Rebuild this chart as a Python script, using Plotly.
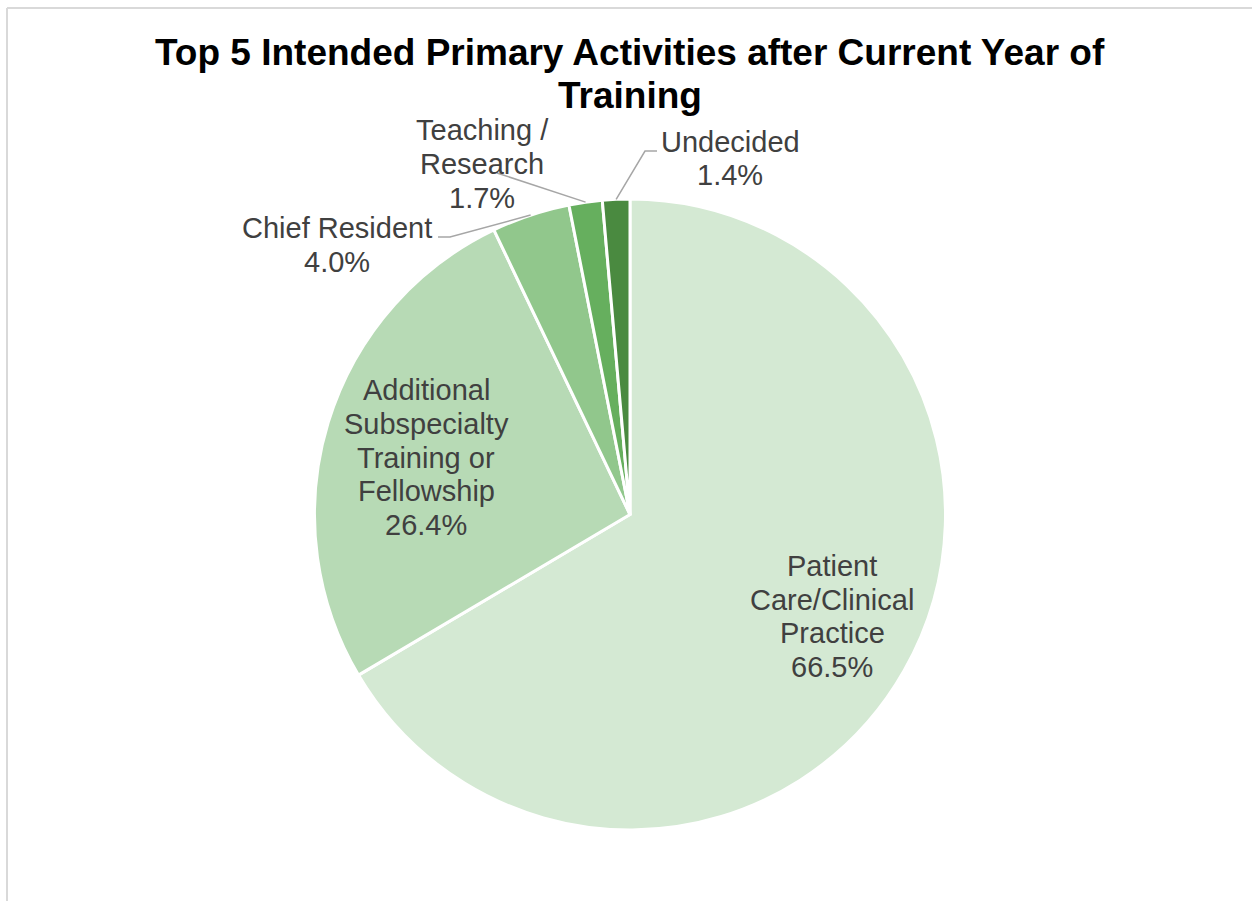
import math
import plotly.graph_objects as go

# Survey results: intended primary activity after the current training year
categories = [
    "Patient Care/Clinical Practice",
    "Additional Subspecialty Training or Fellowship",
    "Chief Resident",
    "Teaching / Research",
    "Undecided",
]
percentages = [66.5, 26.4, 4.0, 1.7, 1.4]

# How each category name is broken across lines in its label
label_lines = [
    ["Patient", "Care/Clinical", "Practice"],
    ["Additional", "Subspecialty", "Training or", "Fellowship"],
    ["Chief Resident"],
    ["Teaching /", "Research"],
    ["Undecided"],
]
title_lines = ["Top 5 Intended Primary Activities after Current Year of", "Training"]

slice_colors = ["#D4E9D3", "#B7DAB5", "#91C78C", "#66AF5E", "#4A8A40"]

W, H = 1252, 901
CX, CY, R = 630.0, 514.5, 315.5          # pie centre and radius in pixels
FONT = "Liberation Sans, Arial, sans-serif"
TEXT_COLOR = "#404040"
LABEL_SIZE = 29
LINE_STEP = 33.6
TITLE_SIZE = 37
TITLE_STEP = 43


def px(x):
    return x / W


def py(y):
    return 1 - y / H


# Label block centres (pixels); outside labels also get a leader line that
# starts on the rim of their slice at the slice bisector.
label_pos = [
    {"center": (832, 616.5)},
    {"center": (426, 457.5)},
    {"center": (337, 245), "elbow": (450, 237), "end": (438, 237)},
    {"center": (482, 164), "elbow": None, "end": (497, 173)},
    {"center": (730, 158.5), "elbow": (645, 151), "end": (657, 151)},
]

total = sum(percentages)
mid_angles = []
acc = 0.0
for v in percentages:
    mid_angles.append((acc + v / 2) / total * 360.0)
    acc += v


def polar(angle_deg, r):
    a = math.radians(angle_deg)
    return CX + r * math.sin(a), CY - r * math.cos(a)


fig = go.Figure(
    go.Pie(
        labels=categories,
        values=percentages,
        sort=False,
        direction="clockwise",
        rotation=0,
        textinfo="none",
        hoverinfo="label+percent",
        marker=dict(colors=slice_colors, line=dict(color="white", width=3)),
        domain=dict(x=[px(CX - R), px(CX + R)], y=[py(CY + R), py(CY - R)]),
        showlegend=False,
    )
)

annotations = []
shapes = []


def add_block(lines, cx, cy, size, color, step, bold=False):
    n = len(lines)
    for k, t in enumerate(lines):
        y = cy + (k - (n - 1) / 2) * step
        annotations.append(
            dict(
                text=f"<b>{t}</b>" if bold else t,
                x=px(cx), y=py(y), xref="paper", yref="paper",
                xanchor="center", yanchor="middle", showarrow=False,
                font=dict(family=FONT, size=size, color=color),
            )
        )


for i, (lines, v, spec) in enumerate(zip(label_lines, percentages, label_pos)):
    text_lines = lines + [f"{v:.1f}%"]
    add_block(text_lines, spec["center"][0], spec["center"][1],
              LABEL_SIZE, TEXT_COLOR, LINE_STEP)
    if "end" in spec:
        sx, sy = polar(mid_angles[i], R)
        pts = [(sx, sy)]
        if spec["elbow"]:
            pts.append(spec["elbow"])
        pts.append(spec["end"])
        path = "M " + " L ".join(f"{px(x):.5f},{py(y):.5f}" for x, y in pts)
        shapes.append(dict(type="path", path=path, xref="paper", yref="paper",
                           line=dict(color="#A6A6A6", width=1.5)))

add_block(title_lines, 630, 73.5, TITLE_SIZE, "#000000", TITLE_STEP, bold=True)

# Chart-area frame (top and left edges visible)
shapes.append(dict(type="line", xref="paper", yref="paper",
                   x0=px(7), x1=1.0, y0=py(8), y1=py(8),
                   line=dict(color="#D9D9D9", width=2)))
shapes.append(dict(type="line", xref="paper", yref="paper",
                   x0=px(7), x1=px(7), y0=py(8), y1=0.0,
                   line=dict(color="#D9D9D9", width=2)))

fig.update_layout(
    width=W, height=H, autosize=False,
    margin=dict(l=0, r=0, t=0, b=0),
    paper_bgcolor="white", plot_bgcolor="white",
    annotations=annotations, shapes=shapes,
    font=dict(family=FONT, color=TEXT_COLOR),
)

fig.write_html("out.html")
